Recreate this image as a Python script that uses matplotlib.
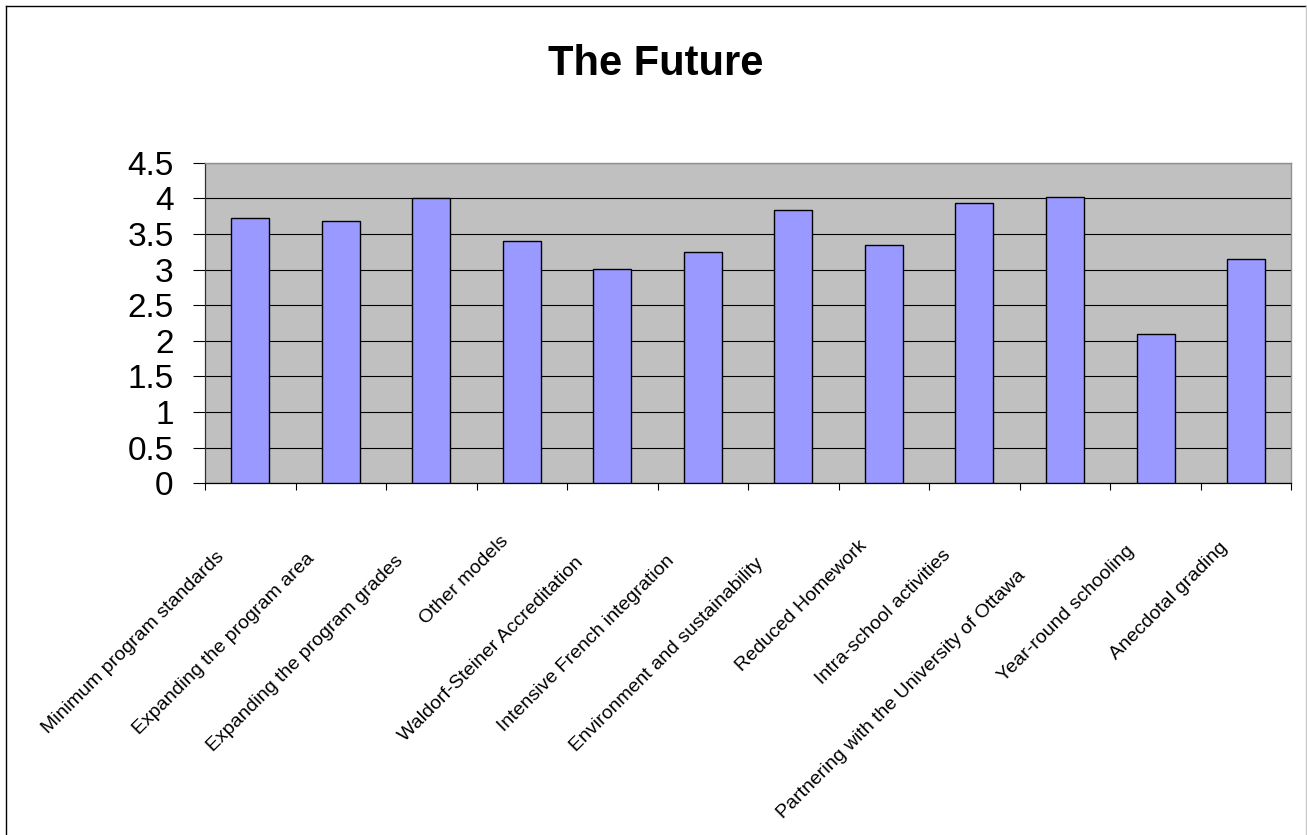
import matplotlib.pyplot as plt
import matplotlib.transforms as mtransforms
from matplotlib.lines import Line2D
import numpy as np

categories = [
    'Minimum program standards',
    'Expanding the program area',
    'Expanding the program grades',
    'Other models',
    'Waldorf-Steiner Accreditation',
    'Intensive French integration',
    'Environment and sustainability',
    'Reduced Homework',
    'Intra-school activities',
    'Partnering with the University of Ottawa',
    'Year-round schooling',
    'Anecdotal grading',
]
scores = [3.73, 3.68, 4.00, 3.40, 3.01, 3.25, 3.83, 3.34, 3.93, 4.02, 2.10, 3.15]
yticks = [0, 0.5, 1, 1.5, 2, 2.5, 3, 3.5, 4, 4.5]
ytick_labels = ['0', '0.5', '1', '1.5', '2', '2.5', '3', '3.5', '4', '4.5']

plt.rcParams['font.family'] = ['Liberation Sans', 'DejaVu Sans']

W, H, DPI = 1307, 835, 100
fig = plt.figure(figsize=(W / DPI, H / DPI), dpi=DPI)
fig.patch.set_facecolor('white')

ax = fig.add_axes([205 / W, 1 - 483.3 / H, 1086.3 / W, 320.6 / H])
ax.set_facecolor('#C0C0C0')

x = np.arange(len(categories))
ax.bar(x, scores, width=0.42, color='#9999FF', edgecolor='black', linewidth=1.0, zorder=3)

ax.set_xlim(-0.5, len(categories) - 0.5)
ax.set_ylim(0, 4.5)
ax.set_yticks(yticks)
ax.set_yticklabels(ytick_labels, fontsize=24)
ax.yaxis.grid(True, color='black', linewidth=0.8)
ax.set_axisbelow(True)

# ticks sit on category boundaries, labels drawn separately
ax.set_xticks(np.arange(-0.5, len(categories), 1))
ax.set_xticklabels([])
ax.tick_params(axis='x', direction='out', length=5, width=0.8, color='black')
ax.tick_params(axis='y', direction='out', length=8.6, width=0.8, color='black', pad=14)

for side in ['top', 'right']:
    ax.spines[side].set_color('#909090')
    ax.spines[side].set_linewidth(1.0)
ax.spines['left'].set_color('#303030')
ax.spines['bottom'].set_color('black')
for side in ['left', 'bottom']:
    ax.spines[side].set_linewidth(0.9)

# rotated category labels, longer ones pushed a little further down-left
for i, name in enumerate(categories):
    n = len(name)
    dx = (-11 - 0.93 * n) / DPI
    dy = -(34 + 1.25 * n) / DPI
    trans = ax.get_xaxis_transform() + mtransforms.ScaledTranslation(dx, dy, fig.dpi_scale_trans)
    ax.text(i, 0, name, transform=trans, rotation=45, rotation_mode='anchor',
            ha='right', va='top', fontsize=14)

fig.text(656 / W, 1 - 75 / H, 'The Future', ha='center', va='baseline',
         fontsize=30, fontweight='bold')

# chart area border
fig.add_artist(Line2D([5.5 / W, 5.5 / W], [0, 1 - 5.5 / H], transform=fig.transFigure,
                      color='black', linewidth=1.0))
fig.add_artist(Line2D([5.5 / W, 1305.5 / W], [1 - 5.5 / H, 1 - 5.5 / H], transform=fig.transFigure,
                      color='black', linewidth=1.0))
fig.add_artist(Line2D([1305.5 / W, 1305.5 / W], [0, 1 - 5.5 / H], transform=fig.transFigure,
                      color='#C8C8C8', linewidth=1.0))

fig.savefig('out.png', dpi=DPI)
